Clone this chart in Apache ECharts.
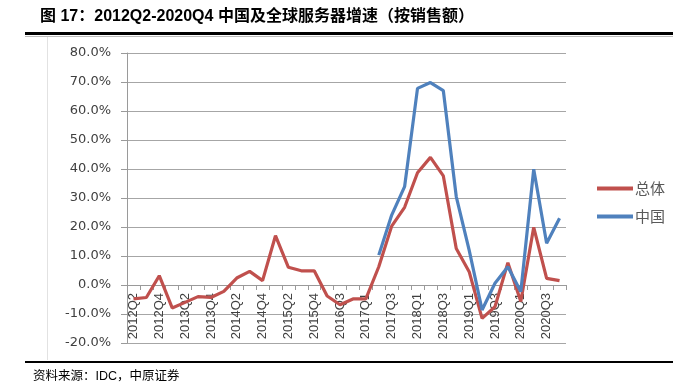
<!DOCTYPE html>
<html>
<head>
<meta charset="utf-8">
<script src="https://cdn.jsdelivr.net/npm/echarts@6/dist/echarts.min.js"></script>
<style>
  html, body { margin: 0; padding: 0; background: #fff; }
  #main { width: 673px; height: 383px; }
</style>
</head>
<body>
<div id="main"></div>
<script>
// 季度（2016Q1 缺失）
var categories = [
  '2012Q2','2012Q3','2012Q4',
  '2013Q1','2013Q2','2013Q3','2013Q4',
  '2014Q1','2014Q2','2014Q3','2014Q4',
  '2015Q1','2015Q2','2015Q3','2015Q4',
  '2016Q2','2016Q3','2016Q4',
  '2017Q1','2017Q2','2017Q3','2017Q4',
  '2018Q1','2018Q2','2018Q3','2018Q4',
  '2019Q1','2019Q2','2019Q3','2019Q4',
  '2020Q1','2020Q2','2020Q3','2020Q4'
];
// 总体增速 %
var totalData = [
  -4.8, -4.3, 3.2,
  -7.9, -6.0, -4.0, -4.3,
  -2.2, 2.4, 4.7, 1.5,
  17.0, 6.1, 4.9, 4.9,
  -3.8, -6.8, -4.8,
  -4.8, 6.3, 20.3, 26.8,
  38.7, 44.0, 37.6, 12.6,
  4.6, -11.5, -7.5, 7.7,
  -5.7, 19.9, 2.3, 1.5
];
// 中国增速 %
var chinaData = [
  null, null, null,
  null, null, null, null,
  null, null, null, null,
  null, null, null, null,
  null, null, null,
  null, 10.3, 24.1, 33.9,
  67.8, 69.8, 67.0, 30.5,
  12.0, -8.6, 0.6, 6.3,
  -2.3, 39.9, 14.4, 23.0
];
var seriesNames = ['总体', '中国'];
var yTicks = { min: -20, max: 80, interval: 10 };

var chart = echarts.init(document.getElementById('main'));
chart.setOption({
  animation: false,
  backgroundColor: '#fff',
  textStyle: { fontFamily: 'Liberation Sans, Noto Sans CJK SC, sans-serif' },
  grid: { left: 127, right: 107, top: 53, bottom: 40, containLabel: false, outerBoundsMode: 'none' },
  legend: {
    orient: 'vertical',
    left: 592,
    top: 176,
    itemWidth: 36,
    itemHeight: 4,
    itemGap: 13,
    icon: 'rect',
    data: seriesNames,
    textStyle: { color: '#595959', fontSize: 15, padding: [0, 0, 0, -3], fontFamily: 'Noto Sans CJK SC' }
  },
  xAxis: {
    type: 'category',
    data: categories,
    boundaryGap: true,
    axisLine: { onZero: true, lineStyle: { color: '#9a9a9a', width: 1 } },
    axisTick: { show: true, interval: 0, length: 5, lineStyle: { color: '#9a9a9a' } },
    axisLabel: {
      interval: 1,
      rotate: 90,
      margin: -50,
      color: '#404040',
      fontSize: 13,
      fontFamily: 'Liberation Sans'
    },
    splitLine: { show: false }
  },
  yAxis: {
    type: 'value',
    min: yTicks.min,
    max: yTicks.max,
    interval: yTicks.interval,
    axisLine: { show: true, lineStyle: { color: '#9a9a9a' } },
    axisTick: { show: true, length: 6, lineStyle: { color: '#9a9a9a' } },
    axisLabel: {
      color: '#404040',
      fontSize: 13,
      margin: 16,
      fontFamily: 'DejaVu Sans',
      formatter: function (v) { return v.toFixed(1) + '%'; }
    },
    splitLine: { show: true, lineStyle: { color: '#a6a6a6', width: 1 } }
  },
  series: [
    {
      name: seriesNames[0],
      type: 'line',
      data: totalData,
      symbol: 'none',
      color: '#C0504D',
      lineStyle: { width: 3.2, color: '#C0504D' }
    },
    {
      name: seriesNames[1],
      type: 'line',
      data: chinaData,
      symbol: 'none',
      color: '#4F81BD',
      lineStyle: { width: 3.2, color: '#4F81BD' }
    }
  ],
  graphic: [
    {
      type: 'text', left: 40, top: 9,
      style: {
        text: '图 17：2012Q2-2020Q4 中国及全球服务器增速（按销售额）',
        fill: '#000', fontSize: 16, fontWeight: 'bold',
        fontFamily: 'Liberation Sans, Noto Sans CJK SC'
      }
    },
    { type: 'rect', shape: { x: 25, y: 32, width: 648, height: 3 }, style: { fill: '#000' } },
    { type: 'rect', shape: { x: 25, y: 36, width: 648, height: 1 }, style: { fill: '#bbb' } },
    { type: 'rect', shape: { x: 47, y: 37, width: 1, height: 323 }, style: { fill: '#e2e2e2' } },
    { type: 'rect', shape: { x: 25, y: 361, width: 648, height: 2 }, style: { fill: '#000' } },
    {
      type: 'text', left: 33, top: 370,
      style: {
        text: '资料来源：IDC，中原证券',
        fill: '#000', fontSize: 12.5,
        fontFamily: 'Liberation Sans, Noto Sans CJK SC'
      }
    }
  ]
});
window.addEventListener('resize', function () { chart.resize(); });
</script>
</body>
</html>
